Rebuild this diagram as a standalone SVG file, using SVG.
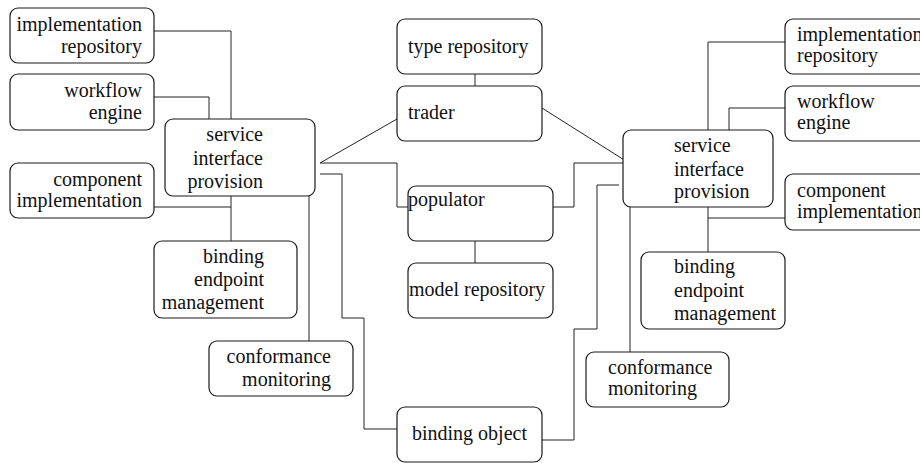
<svg xmlns="http://www.w3.org/2000/svg" width="920" height="463" viewBox="0 0 920 463">
<style>
.box{fill:#fff;stroke:#1a1a1a;stroke-width:1.2}
.ln{fill:none;stroke:#222;stroke-width:1}
text{font-family:"Liberation Serif","Times New Roman",serif;font-size:20px;fill:#111}
.r{text-anchor:end}
</style>
<rect width="920" height="463" fill="#fff"/>
<g id="connectors">
<polyline class="ln" points="154,31 231,31 231,119"/>
<polyline class="ln" points="154,97 209,97 209,119"/>
<polyline class="ln" points="154,207 231,207"/>
<line class="ln" x1="231" y1="196" x2="231" y2="241"/>
<line class="ln" x1="309" y1="196" x2="309" y2="341"/>
<polyline class="ln" points="397,119 320,163 397,163 397,207 408,207"/>
<polyline class="ln" points="320,174 342,174 342,318 364,318 364,429 397,429"/>
<line class="ln" x1="475" y1="74" x2="475" y2="86"/>
<line class="ln" x1="475" y1="241" x2="475" y2="263"/>
<polyline class="ln" points="542,108 629,163 574,163 574,207 553,207"/>
<polyline class="ln" points="619,185 597,185 597,329 574,329 574,440 542,440"/>
<polyline class="ln" points="785,42 708,42 708,130"/>
<polyline class="ln" points="785,108 729,108 729,130"/>
<polyline class="ln" points="785,218 708,218"/>
<line class="ln" x1="708" y1="207" x2="708" y2="252"/>
<line class="ln" x1="630" y1="207" x2="630" y2="352"/>
</g>
<g id="impl-repo-left"><rect class="box" x="10" y="8" width="144" height="55" rx="8"/><text class="r" x="142" y="31">implementation</text><text class="r" x="142" y="53">repository</text></g>
<g id="workflow-left"><rect class="box" x="10" y="74" width="144" height="56" rx="8"/><text class="r" x="142" y="97">workflow</text><text class="r" x="142" y="119">engine</text></g>
<g id="component-left"><rect class="box" x="10" y="163" width="144" height="55" rx="8"/><text class="r" x="142" y="186">component</text><text class="r" x="142" y="207">implementation</text></g>
<g id="sip-left"><rect class="box" x="165" y="119" width="150" height="77" rx="8"/><text class="r" x="263" y="141">service</text><text class="r" x="263" y="165">interface</text><text class="r" x="263" y="188">provision</text></g>
<g id="bem-left"><rect class="box" x="154" y="241" width="143" height="77" rx="8"/><text class="r" x="264" y="263">binding</text><text class="r" x="264" y="286">endpoint</text><text class="r" x="264" y="309">management</text></g>
<g id="conf-left"><rect class="box" x="209" y="341" width="144" height="55" rx="8"/><text class="r" x="331" y="363">conformance</text><text class="r" x="331" y="386">monitoring</text></g>
<g id="type-repo"><rect class="box" x="397" y="19" width="145" height="55" rx="8"/><text x="408" y="53">type repository</text></g>
<g id="trader"><rect class="box" x="397" y="86" width="145" height="55" rx="8"/><text x="408" y="119">trader</text></g>
<g id="populator"><rect class="box" x="408" y="186" width="145" height="55" rx="8"/><text x="408" y="206">populator</text></g>
<g id="model-repo"><rect class="box" x="408" y="263" width="145" height="55" rx="8"/><text x="409" y="296">model repository</text></g>
<g id="binding-object"><rect class="box" x="397" y="407" width="145" height="55" rx="8"/><text x="412" y="440">binding object</text></g>
<g id="sip-right"><rect class="box" x="623" y="130" width="150" height="77" rx="8"/><text x="674" y="152">service</text><text x="674" y="176">interface</text><text x="674" y="198">provision</text></g>
<g id="impl-repo-right"><rect class="box" x="785" y="19" width="150" height="55" rx="8"/><text x="797" y="41">implementation</text><text x="797" y="62">repository</text></g>
<g id="workflow-right"><rect class="box" x="785" y="86" width="150" height="55" rx="8"/><text x="797" y="108">workflow</text><text x="797" y="129">engine</text></g>
<g id="component-right"><rect class="box" x="785" y="174" width="150" height="56" rx="8"/><text x="797" y="197">component</text><text x="797" y="218">implementation</text></g>
<g id="bem-right"><rect class="box" x="641" y="252" width="144" height="77" rx="8"/><text x="674" y="273">binding</text><text x="674" y="297">endpoint</text><text x="674" y="320">management</text></g>
<g id="conf-right"><rect class="box" x="586" y="352" width="143" height="55" rx="8"/><text x="608" y="374">conformance</text><text x="608" y="395">monitoring</text></g>
</svg>
